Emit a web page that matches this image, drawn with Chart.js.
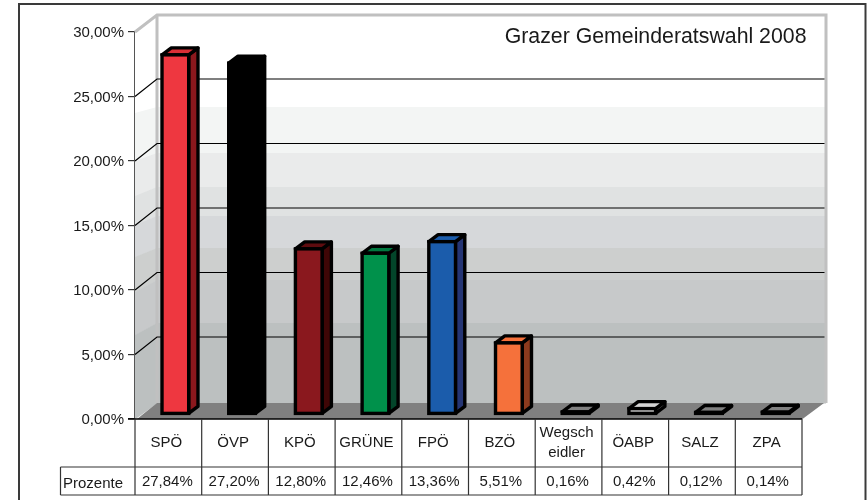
<!DOCTYPE html>
<html>
<head>
<meta charset="utf-8">
<script src="https://cdn.jsdelivr.net/npm/chart.js@4"></script>
<style>html,body{margin:0;padding:0;background:#fff}canvas{display:block}</style>
</head>
<body>
<canvas id="c" width="868" height="500"></canvas>
<script>
const chartTitle = 'Grazer Gemeinderatswahl 2008';
const rowLabel = 'Prozente';
const categories = ['SPÖ','ÖVP','KPÖ','GRÜNE','FPÖ','BZÖ',['Wegsch','eidler'],'ÖABP','SALZ','ZPA'];
const values = [27.84,27.20,12.80,12.46,13.36,5.51,0.16,0.42,0.12,0.14];
const frontColors = ['#ee3740','#000000','#8a181e','#00914b','#1b5cab','#f5713b','#808080','#c8c8c8','#808080','#808080'];
const topColors   = ['#d92f36','#000000','#5e0c0f','#00793f','#1b5cab','#f5713b','#808080','#d4d4d4','#808080','#808080'];
const sideColors  = ['#8b181d','#000000','#3f0606','#03452a','#253574','#8c3a1d','#808080','#8a8a8a','#808080','#808080'];
const wallColors  = ['#ffffff','#f3f5f4','#eaebeb','#e0e2e2','#d6d8da','#cdcfce','#c7c9ca','#bcc0c0'];
const wallEdges   = [15,107,153,187,216,248,280,323,403];
const sideEdges   = [32,113,161,196,225,257,292,335,419];

const fontFamily = '"Liberation Sans", Arial, sans-serif';
const W = {depthX:22, depthY:17.5, backRight:826, floorY:403, barDX:7, barDY:-5, faceDX:9.3, faceDY:-7, rowMid:467, rowEnd:495, rowStart:60.5, stroke:3.4};

function fmt(v){return v.toFixed(2).replace('.',',')+'%';}

const scene = {
  id:'scene',
  beforeDatasetsDraw(chart){
    const {ctx,chartArea:a,scales:{x,y}} = chart;
    const bl = a.left + W.depthX;
    ctx.save();
    wallColors.forEach((c,i)=>{
      ctx.fillStyle = c;
      ctx.fillRect(bl, wallEdges[i], W.backRight-bl, wallEdges[i+1]-wallEdges[i]+0.5);
      ctx.beginPath();
      ctx.moveTo(a.left, sideEdges[i]);
      ctx.lineTo(bl, wallEdges[i]);
      ctx.lineTo(bl, wallEdges[i+1]+0.5);
      ctx.lineTo(a.left, sideEdges[i+1]+0.5);
      ctx.closePath(); ctx.fill();
    });
    ctx.fillStyle = '#808080';
    ctx.beginPath();
    ctx.moveTo(a.left+2,a.bottom);
    ctx.lineTo(bl,W.floorY);
    ctx.lineTo(W.backRight-2,W.floorY);
    ctx.lineTo(a.right+0.5,a.bottom);
    ctx.closePath(); ctx.fill();
    ctx.strokeStyle = '#c0c0c0'; ctx.lineWidth = 3; ctx.lineJoin='miter';
    ctx.beginPath();
    ctx.moveTo(a.left,a.top); ctx.lineTo(bl,15); ctx.lineTo(W.backRight,15); ctx.lineTo(W.backRight,W.floorY);
    ctx.moveTo(bl,15); ctx.lineTo(bl,W.floorY);
    ctx.stroke();
    ctx.strokeStyle = '#000'; ctx.lineWidth = 1.2;
    y.ticks.forEach(t=>{
      if(t.value<=0||t.value>=30) return;
      const p = y.getPixelForValue(t.value);
      ctx.beginPath();
      ctx.moveTo(a.left,p); ctx.lineTo(bl,p-W.depthY); ctx.lineTo(W.backRight-1.5,p-W.depthY);
      ctx.stroke();
    });
    const els = chart.getDatasetMeta(0).data;
    ctx.lineWidth = W.stroke; ctx.strokeStyle='#000'; ctx.lineJoin='round';
    els.forEach((b,i)=>{
      const l=b.x-b.width/2+W.barDX, r=b.x+b.width/2+W.barDX, t=b.y+W.barDY, bt=b.base+W.barDY;
      ctx.fillStyle = sideColors[i];
      ctx.beginPath();
      ctx.moveTo(r,bt); ctx.lineTo(r+W.faceDX,bt+W.faceDY); ctx.lineTo(r+W.faceDX,t+W.faceDY); ctx.lineTo(r,t);
      ctx.closePath(); ctx.fill(); ctx.stroke();
      ctx.fillStyle = topColors[i];
      ctx.beginPath();
      ctx.moveTo(l,t); ctx.lineTo(l+W.faceDX,t+W.faceDY); ctx.lineTo(r+W.faceDX,t+W.faceDY); ctx.lineTo(r,t);
      ctx.closePath(); ctx.fill(); ctx.stroke();
    });
    ctx.restore();
  },
  beforeDatasetDraw(chart){
    chart.ctx.save();
    chart.ctx.translate(W.barDX,W.barDY);
  },
  afterDatasetDraw(chart,args){
    const ctx = chart.ctx;
    ctx.lineWidth = W.stroke; ctx.strokeStyle='#000'; ctx.lineJoin='miter';
    args.meta.data.forEach(b=>{
      ctx.strokeRect(b.x-b.width/2,b.y,b.width,b.base-b.y);
    });
    ctx.restore();
  },
  afterDraw(chart){
    const {ctx,chartArea:a,scales:{x}} = chart;
    ctx.save();
    ctx.strokeStyle='#3a3a3a'; ctx.lineWidth=2;
    ctx.strokeRect(19,4,846.5,510);
    ctx.strokeStyle='#000'; ctx.lineWidth=1.5;
    ctx.beginPath(); ctx.moveTo(a.left-7,a.bottom); ctx.lineTo(a.right,a.bottom); ctx.stroke();
    ctx.strokeStyle='#333'; ctx.lineWidth=1.2;
    ctx.beginPath();
    const step=(a.right-a.left)/categories.length;
    for(let i=0;i<=categories.length;i++){
      const px=a.left+i*step;
      ctx.moveTo(px,a.bottom); ctx.lineTo(px,W.rowEnd);
    }
    ctx.moveTo(W.rowStart,W.rowMid); ctx.lineTo(a.right,W.rowMid);
    ctx.moveTo(W.rowStart,W.rowEnd); ctx.lineTo(a.right,W.rowEnd);
    ctx.moveTo(W.rowStart,W.rowMid); ctx.lineTo(W.rowStart,W.rowEnd);
    ctx.stroke();
    ctx.fillStyle='#1a1a1a'; ctx.font='15px '+fontFamily;
    ctx.textBaseline='middle'; ctx.textAlign='center';
    values.forEach((v,i)=>ctx.fillText(fmt(v),x.getPixelForTick(i)-1,481.5));
    ctx.textAlign='left';
    ctx.fillText(rowLabel,63,484);
    ctx.textAlign='right'; ctx.textBaseline='alphabetic';
    ctx.font='21.3px '+fontFamily;
    ctx.fillText(chartTitle,806.5,43);
    ctx.restore();
  }
};

new Chart(document.getElementById('c'),{
  type:'bar',
  data:{labels:categories,datasets:[{
    data:values,
    backgroundColor:frontColors,
    borderWidth:0,
    barPercentage:0.4,
    categoryPercentage:1,
    clip:false
  }]},
  plugins:[scene],
  options:{
    responsive:false,
    animation:false,
    layout:{padding:{left:0,right:66,top:32,bottom:0}},
    plugins:{legend:{display:false},title:{display:false},tooltip:{enabled:false}},
    scales:{
      x:{
        afterFit(s){s.height=81;},
        grid:{display:false},
        border:{display:false},
        ticks:{
          color:'#1a1a1a',
          font:{family:fontFamily,size:15,lineHeight:1.3},
          maxRotation:0,minRotation:0,autoSkip:false,
          crossAlign:'center',
          padding:6,
          labelOffset:-2
        }
      },
      y:{
        min:0,max:30,
        afterFit(s){s.width=135;},
        grid:{drawOnChartArea:false,drawTicks:true,tickLength:7,color:'#333',lineWidth:1.2},
        border:{display:true,color:'#555',width:2},
        ticks:{
          stepSize:5,
          color:'#1a1a1a',
          font:{family:fontFamily,size:15},
          padding:4,
          labelOffset:1,
          callback:fmt
        }
      }
    }
  }
});
</script>
</body>
</html>
